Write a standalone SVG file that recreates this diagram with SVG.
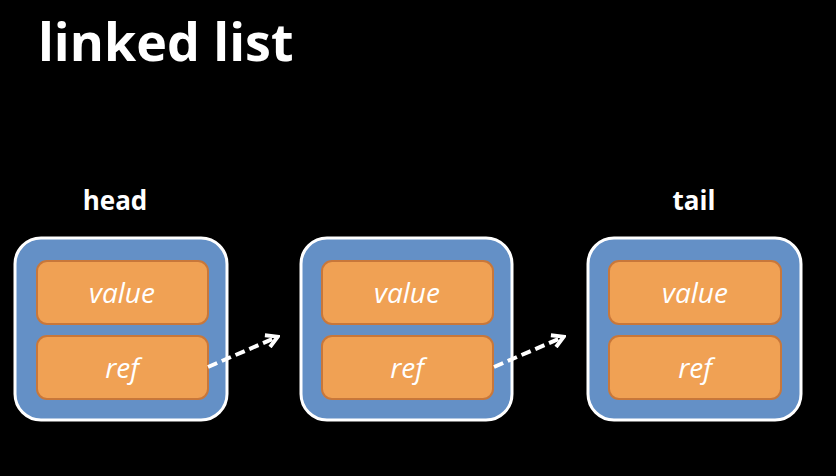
<svg xmlns="http://www.w3.org/2000/svg" width="836" height="476" viewBox="0 0 836 476">
<defs>
<style>
.outer{fill:#6490c6;stroke:#ffffff;stroke-width:3}
.cell{fill:#f0a154;stroke:#c8773a;stroke-width:2}
.ct{font-family:"Open Sans","Liberation Sans",sans-serif;font-style:italic;font-size:28px;fill:#ffffff;text-anchor:middle}
.lbl{font-family:"Open Sans","Liberation Sans",sans-serif;font-weight:bold;font-size:26px;fill:#ffffff;text-anchor:middle}
.conn{stroke:#ffffff;stroke-width:4;stroke-dasharray:10 5;fill:none}
</style>
<marker id="ah" viewBox="0 0 10 10" refX="8" refY="5" markerWidth="4" markerHeight="4" orient="auto" markerUnits="strokeWidth">
<path d="M1.5,1 L8.5,5 L1.5,9" fill="none" stroke="#ffffff" stroke-width="2.4"/>
</marker>
</defs>
<rect width="836" height="476" fill="#000000"/>
<text x="38" y="61" font-family="Open Sans, Liberation Sans, sans-serif" font-weight="bold" font-size="52" fill="#ffffff">linked list</text>
<text class="lbl" x="115" y="210">head</text>
<text class="lbl" x="694" y="210">tail</text>
<g id="node1">
<rect class="outer" x="15" y="238" width="212" height="182" rx="26"/>
<rect class="cell" x="37" y="261" width="171" height="63" rx="10"/>
<text class="ct" x="122" y="303">value</text>
<rect class="cell" x="37" y="336" width="171" height="63" rx="10"/>
<text class="ct" x="122" y="378">ref</text>
</g>
<g id="node2">
<rect class="outer" x="301" y="238" width="211" height="182" rx="26"/>
<rect class="cell" x="322" y="261" width="171" height="63" rx="10"/>
<text class="ct" x="407" y="303">value</text>
<rect class="cell" x="322" y="336" width="171" height="63" rx="10"/>
<text class="ct" x="407" y="378">ref</text>
</g>
<g id="node3">
<rect class="outer" x="588" y="238" width="213" height="182" rx="26"/>
<rect class="cell" x="609" y="261" width="172" height="63" rx="10"/>
<text class="ct" x="695" y="303">value</text>
<rect class="cell" x="609" y="336" width="172" height="63" rx="10"/>
<text class="ct" x="695" y="378">ref</text>
</g>
<g id="connectors">
<path class="conn" d="M208,367 L277,337" marker-end="url(#ah)"/>
<path class="conn" d="M494,367 L563,337" marker-end="url(#ah)"/>
</g>
</svg>
